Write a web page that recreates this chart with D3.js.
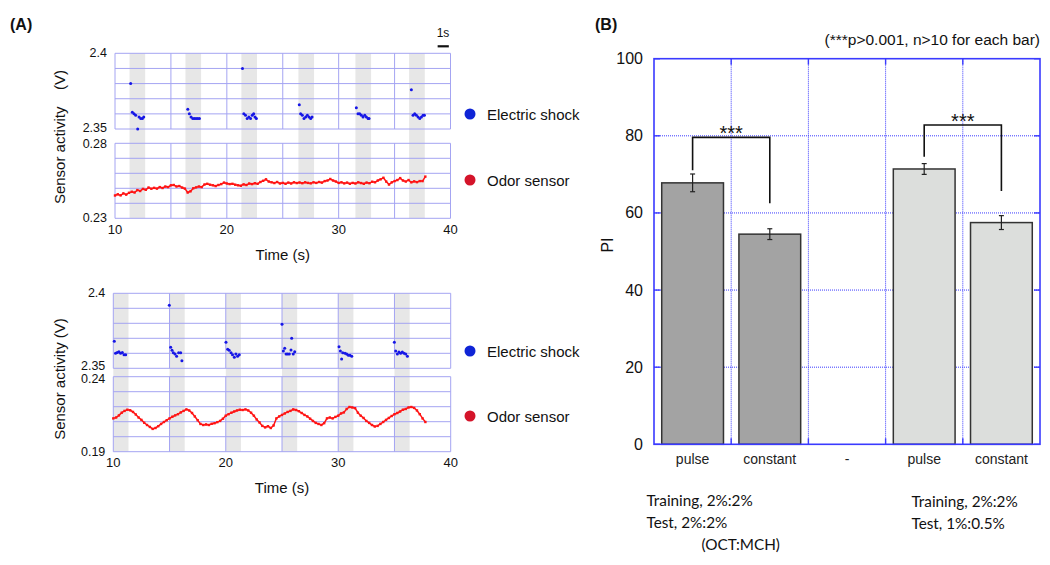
<!DOCTYPE html>
<html><head><meta charset="utf-8">
<script src="https://cdn.jsdelivr.net/npm/d3@7"></script>
<style>body{margin:0;background:#fff}svg{font-family:"Liberation Sans",Arial,sans-serif}</style>
</head><body>
<svg id="c" width="1050" height="565"></svg>
<script>
// ---------------- DATA ----------------
// Panel A (top recording): stimulus (shaded) onset times, seconds
const stimTopStart = [11.3, 16.3, 21.3, 26.4, 31.5, 36.3];
const stimTopWidth = 1.4;
const stimBottomStart = [10, 15, 20, 25, 30, 35];
const stimBottomWidth = 1.35;

// Electric shock sensor samples [time s, V]
const shockTop = [
[11.40,2.380],[11.55,2.361],[11.70,2.360],[11.85,2.359],[12.03,2.350],[12.15,2.358],[12.30,2.357],[12.45,2.357],[12.57,2.358],
[16.51,2.363],[16.65,2.360],[16.80,2.358],[16.95,2.357],[17.10,2.357],[17.25,2.357],[17.40,2.357],[17.55,2.357],
[21.40,2.390],[21.52,2.360],[21.67,2.359],[21.82,2.357],[21.97,2.358],[22.12,2.357],[22.27,2.359],[22.40,2.360],[22.52,2.358],[22.64,2.357],
[26.48,2.366],[26.60,2.360],[26.75,2.359],[26.90,2.357],[27.05,2.358],[27.20,2.359],[27.35,2.358],[27.50,2.357],[27.62,2.358],
[31.58,2.364],[31.73,2.360],[31.88,2.360],[32.03,2.359],[32.18,2.358],[32.33,2.359],[32.48,2.358],[32.63,2.357],[32.72,2.357],
[36.50,2.376],[36.65,2.359],[36.80,2.360],[36.95,2.359],[37.10,2.358],[37.25,2.357],[37.40,2.358],[37.55,2.359],[37.67,2.359]
];
const shockBottom = [
[10.09,2.368],[10.20,2.360],[10.35,2.3605],[10.50,2.361],[10.65,2.360],[10.80,2.3605],[10.95,2.359],[11.10,2.359],
[14.98,2.392],[15.10,2.364],[15.22,2.362],[15.34,2.3604],[15.49,2.3596],[15.63,2.358],[15.81,2.3604],[15.99,2.3604],[16.10,2.355],
[20.02,2.3673],[20.17,2.3627],[20.30,2.362],[20.47,2.3604],[20.60,2.359],[20.76,2.3573],[20.90,2.3596],[21.05,2.358],[21.20,2.359],
[25.00,2.3793],[25.12,2.3616],[25.24,2.3633],[25.36,2.3596],[25.50,2.3596],[25.65,2.3596],[25.80,2.3622],[25.86,2.370],[26.00,2.3596],[26.13,2.361],
[30.07,2.3644],[30.19,2.3616],[30.30,2.3562],[30.40,2.3604],[30.60,2.360],[30.75,2.3596],[30.90,2.3587],[31.04,2.3587],[31.20,2.358],
[34.99,2.3673],[35.11,2.3616],[35.26,2.3596],[35.40,2.3609],[35.55,2.360],[35.70,2.3609],[35.85,2.360],[36.00,2.3596],[36.15,2.358]
];

// Odor sensor, sampled every 0.25 s starting at 10 s (V)
const odorSampleStart = 10;
const odorSampleStep = 0.25;
const odorTop = [
.2452,.2460,.2453,.2466,.2458,.2470,.2477,.2472,.2488,.2482,.2496,.2490,.2505,.2497,.2503,.2498,
.2508,.2502,.2512,.2508,.2520,.2522,.2512,.2515,.2505,.2498,.2472,.2480,.2500,.2506,.2512,.2508,
.2525,.2530,.2524,.2520,.2515,.2522,.2528,.2538,.2532,.2528,.2530,.2524,.2520,.2517,.2526,.2522,
.2532,.2528,.2534,.2530,.2542,.2550,.2560,.2545,.2540,.2535,.2542,.2532,.2536,.2530,.2538,.2532,
.2540,.2535,.2539,.2534,.2540,.2536,.2533,.2540,.2536,.2542,.2538,.2548,.2552,.2562,.2552,.2545,
.2536,.2540,.2533,.2538,.2530,.2536,.2532,.2540,.2535,.2530,.2538,.2534,.2544,.2540,.2552,.2560,
.2570,.2545,.2525,.2540,.2548,.2555,.2568,.2552,.2545,.2555,.2540,.2546,.2541,.2548,.2548,.2578
];
const odorBottom = [
.2122,.2128,.2142,.2160,.2172,.2180,.2176,.2165,.2148,.2128,.2112,.2093,.2078,.2065,.2052,.2058,
.2070,.2085,.2098,.2110,.2122,.2133,.2142,.2150,.2162,.2172,.2182,.2175,.2158,.2135,.2110,.2085,
.2078,.2082,.2078,.2086,.2090,.2097,.2105,.2120,.2140,.2150,.2160,.2168,.2175,.2180,.2178,.2182,
.2175,.2160,.2140,.2115,.2095,.2072,.2062,.2070,.2058,.2075,.2122,.2135,.2145,.2155,.2165,.2172,
.2182,.2178,.2170,.2158,.2145,.2135,.2120,.2105,.2092,.2085,.2078,.2090,.2122,.2128,.2122,.2132,
.2140,.2155,.2162,.2185,.2198,.2195,.2190,.2160,.2140,.2125,.2105,.2092,.2078,.2068,.2072,.2085,
.2098,.2112,.2125,.2138,.2150,.2158,.2168,.2180,.2185,.2195,.2198,.2192,.2175,.2150,.2122,.2098
];
const timeTickLabels = [10, 20, 30, 40];
const legendLabels = ["Electric shock", "Odor sensor"];

// Panel B
const barLabels = ["pulse", "constant", "-", "pulse", "constant"];
const barValues = [67.8, 54.5, null, 71.4, 57.5];
const barErrors = [2.3, 1.4, null, 1.4, 1.8];
const barGroup = [0, 0, null, 1, 1];
const piTicks = [0, 20, 40, 60, 80, 100];
const sigBrackets = [
  {from: 0, to: 1, left: 71.1, top: 79.6, right: 62.5, label: "***"},
  {from: 3, to: 4, left: 74.6, top: 82.8, right: 65.7, label: "***"}
];
const noteText = "(***p>0.001, n>10 for each bar)";
const condLeft = ["Training, 2%:2%", "Test, 2%:2%", "(OCT:MCH)"];
const condRight = ["Training, 2%:2%", "Test, 1%:0.5%"];

// ---------------- DRAW ----------------
const svg = d3.select("#c");
const GRID = "#a4a4f2";
const BLUE = "#1616e6";
const RED = "#ff1414";

function drawPanelA(o) {
  const x = d3.scaleLinear().domain([10, 40]).range(o.xr);
  const ys = d3.scaleLinear().domain([2.35, 2.40]).range(o.sy);
  const yo = d3.scaleLinear().domain(o.odorDomain).range(o.oy);
  const g = svg.append("g");

  g.selectAll("rect.band").data(o.bands).join("rect")
    .attr("x", d => x(d)).attr("width", d => x(d + o.bandW) - x(d))
    .attr("y", o.sy[1]).attr("height", o.oy[0] - o.sy[1])
    .attr("fill", "#e7e7e7");

  [ys, yo].forEach((y, k) => {
    const [y0, y1] = y.range();
    g.append("g").selectAll("line").data(y.ticks(5)).join("line")
      .attr("x1", o.xr[0]).attr("x2", o.xr[1])
      .attr("y1", d => y(d)).attr("y2", d => y(d))
      .attr("stroke", GRID).attr("stroke-width", 1);
    g.append("g").selectAll("line").data(x.ticks(6)).join("line")
      .attr("x1", d => x(d)).attr("x2", d => x(d))
      .attr("y1", y0).attr("y2", y1)
      .attr("stroke", GRID).attr("stroke-width", 1);
    const dom = y.domain();
    // lower label of shock plot nudged up, upper label of odor plot nudged down
    g.append("g").selectAll("text").data(dom).join("text")
      .attr("x", o.xr[0] - 8)
      .attr("y", (d, j) => y(d) + (k === 0 && j === 0 ? -o.nudge : 0) + (k === 1 && j === 1 ? o.nudge : 0))
      .attr("text-anchor", "end").attr("dominant-baseline", "central")
      .attr("font-size", 12.5).attr("fill", "#111")
      .text(d => String(+d.toFixed(3)));
  });

  g.append("g").selectAll("circle").data(o.shock).join("circle")
    .attr("cx", d => x(d[0])).attr("cy", d => ys(d[1])).attr("r", 1.5)
    .attr("fill", BLUE);

  const line = d3.line()
    .x((d, i) => x(odorSampleStart + i * odorSampleStep))
    .y(d => yo(d));
  g.append("path").datum(o.odor).attr("d", line)
    .attr("fill", "none").attr("stroke", RED).attr("stroke-width", 1.5);
  g.append("g").selectAll("rect").data(o.odor).join("rect")
    .attr("x", (d, i) => x(odorSampleStart + i * odorSampleStep) - 1.2)
    .attr("y", d => yo(d) - 1.2).attr("width", 2.4).attr("height", 2.4)
    .attr("fill", RED);

  g.append("g").selectAll("text").data(timeTickLabels).join("text")
    .attr("x", d => x(d)).attr("y", o.oy[0] + 11)
    .attr("text-anchor", "middle").attr("dominant-baseline", "central")
    .attr("font-size", 13).attr("fill", "#111").text(d => d);
  g.append("text").attr("x", (o.xr[0] + o.xr[1]) / 2).attr("y", o.oy[0] + 36)
    .attr("text-anchor", "middle").attr("dominant-baseline", "central")
    .attr("font-size", 15).attr("fill", "#111").text("Time (s)");

  g.append("text").attr("transform", `translate(${o.titleX},${o.titleY}) rotate(-90)`)
    .attr("text-anchor", "middle").attr("font-size", 15).attr("fill", "#111")
    .style("white-space", "pre").text(o.title);

  const lg = g.append("g");
  const ly = [o.legendY[0], o.legendY[1]];
  lg.selectAll("circle").data(legendLabels).join("circle")
    .attr("cx", 470).attr("cy", (d, i) => ly[i]).attr("r", 5.5)
    .attr("fill", (d, i) => i === 0 ? "#0f24d6" : "#d4142a");
  lg.selectAll("text").data(legendLabels).join("text")
    .attr("x", 487).attr("y", (d, i) => ly[i]).attr("dominant-baseline", "central")
    .attr("font-size", 15).attr("fill", "#111").text(d => d);
  return x;
}

const xTop = drawPanelA({
  xr: [115, 450.5], sy: [129, 53.3], oy: [218.3, 143.3], odorDomain: [0.23, 0.28],
  bands: stimTopStart, bandW: stimTopWidth, shock: shockTop, odor: odorTop, nudge: 1,
  title: "Sensor activity    (V)", titleX: 65, titleY: 137, legendY: [114, 180]
});
drawPanelA({
  xr: [113.3, 450.7], sy: [368.3, 293.3], oy: [451.7, 376.7], odorDomain: [0.19, 0.24],
  bands: stimBottomStart, bandW: stimBottomWidth, shock: shockBottom, odor: odorBottom, nudge: 2.5,
  title: "Sensor activity (V)", titleX: 65, titleY: 379, legendY: [351, 416]
});

svg.append("text").attr("x", 10).attr("y", 30).attr("font-size", 16).attr("font-weight", "bold").attr("fill", "#111").text("(A)");
svg.append("text").attr("x", 595).attr("y", 30).attr("font-size", 16).attr("font-weight", "bold").attr("fill", "#111").text("(B)");

svg.append("text").attr("x", 443).attr("y", 37).attr("text-anchor", "middle").attr("font-size", 12).attr("fill", "#111").text("1s");
svg.append("line").attr("x1", xTop(38.85)).attr("x2", xTop(39.85)).attr("y1", 46.3).attr("y2", 46.3)
  .attr("stroke", "#111").attr("stroke-width", 2.2);

// ---------------- PANEL B ----------------
(function () {
  const L = 654, R = 1040, T = 58.7, B = 444.3;
  const idx = d3.range(barLabels.length);
  const x = d3.scaleBand().domain(idx).range([L, R]).paddingInner(0.2).paddingOuter(0.1);
  const y = d3.scaleLinear().domain([0, 100]).range([B, T]);
  const g = svg.append("g");
  const GB = "#3a3aff";

  g.append("g").selectAll("line").data(piTicks.filter(d => d > 0 && d < 100)).join("line")
    .attr("x1", L).attr("x2", R).attr("y1", d => y(d)).attr("y2", d => y(d))
    .attr("stroke", GB).attr("stroke-width", 1).attr("stroke-dasharray", "1,1");
  const bounds = idx.slice(1).map(i => x(i) - x.step() * x.paddingInner() / 2);
  g.append("g").selectAll("line").data(bounds).join("line")
    .attr("x1", d => d).attr("x2", d => d).attr("y1", T).attr("y2", B)
    .attr("stroke", GB).attr("stroke-width", 1).attr("stroke-dasharray", "1,1");

  const fills = ["#a3a3a3", "#dcdedc"];
  const bd = idx.filter(i => barValues[i] != null);
  g.append("g").selectAll("rect").data(bd).join("rect")
    .attr("x", i => x(i)).attr("width", x.bandwidth())
    .attr("y", i => y(barValues[i])).attr("height", i => B - y(barValues[i]))
    .attr("fill", i => fills[barGroup[i]]).attr("stroke", "#333").attr("stroke-width", 1.5);

  const eg = g.append("g").attr("stroke", "#222").attr("stroke-width", 1.2);
  bd.forEach(i => {
    const cx = x(i) + x.bandwidth() / 2;
    const hi = y(barValues[i] + barErrors[i]), lo = y(barValues[i] - barErrors[i]);
    eg.append("line").attr("x1", cx).attr("x2", cx).attr("y1", hi).attr("y2", lo);
    eg.append("line").attr("x1", cx - 2.5).attr("x2", cx + 2.5).attr("y1", hi).attr("y2", hi);
    eg.append("line").attr("x1", cx - 2.5).attr("x2", cx + 2.5).attr("y1", lo).attr("y2", lo);
  });

  g.append("rect").attr("x", L).attr("y", T).attr("width", R - L).attr("height", B - T)
    .attr("fill", "none").attr("stroke", GB).attr("stroke-width", 1.6);
  const tk = g.append("g").attr("stroke", GB).attr("stroke-width", 1.4);
  piTicks.forEach(v => {
    tk.append("line").attr("x1", L).attr("x2", L + 6).attr("y1", y(v)).attr("y2", y(v));
    tk.append("line").attr("x1", R - 6).attr("x2", R).attr("y1", y(v)).attr("y2", y(v));
  });
  bounds.forEach(b => {
    tk.append("line").attr("x1", b).attr("x2", b).attr("y1", B).attr("y2", B - 6);
    tk.append("line").attr("x1", b).attr("x2", b).attr("y1", T).attr("y2", T + 6);
  });

  g.append("g").selectAll("text").data(piTicks).join("text")
    .attr("x", L - 11).attr("y", d => y(d)).attr("text-anchor", "end")
    .attr("dominant-baseline", "central").attr("font-size", 16).attr("fill", "#111").text(d => d);
  g.append("text").attr("transform", `translate(613,245) rotate(-90)`)
    .attr("text-anchor", "middle").attr("font-size", 16).attr("fill", "#111").text("PI");

  g.append("g").selectAll("text").data(idx).join("text")
    .attr("x", i => x(i) + x.bandwidth() / 2).attr("y", 464)
    .attr("text-anchor", "middle").attr("font-size", 14).attr("fill", "#222").text(i => barLabels[i]);

  const sg = g.append("g");
  sigBrackets.forEach(s => {
    const x1 = x(s.from) + x.bandwidth() / 2, x2 = x(s.to) + x.bandwidth() / 2;
    sg.append("path")
      .attr("d", `M${x1},${y(s.left)}V${y(s.top)}H${x2}V${y(s.right)}`)
      .attr("fill", "none").attr("stroke", "#111").attr("stroke-width", 1.6);
    sg.append("text").attr("x", (x1 + x2) / 2).attr("y", y(s.top) + 3)
      .attr("text-anchor", "middle").attr("font-size", 20)
      .attr("fill", "#111").text(s.label);
  });

  g.append("text").attr("x", R).attr("y", 45).attr("text-anchor", "end")
    .attr("font-size", 15.5).attr("fill", "#111").text(noteText);

  const cf = "Lato, 'Open Sans', sans-serif";
  g.append("g").selectAll("text").data(condLeft).join("text")
    .attr("x", (d, i) => i === 2 ? 701.5 : 646.5).attr("y", (d, i) => 506 + i * 22)
    .attr("font-family", cf).attr("font-size", 15.3).attr("fill", "#111").text(d => d);
  g.append("g").selectAll("text").data(condRight).join("text")
    .attr("x", 911.5).attr("y", (d, i) => 507 + i * 22)
    .attr("font-family", cf).attr("font-size", 15.3).attr("fill", "#111").text(d => d);
})();
</script>
</body></html>
